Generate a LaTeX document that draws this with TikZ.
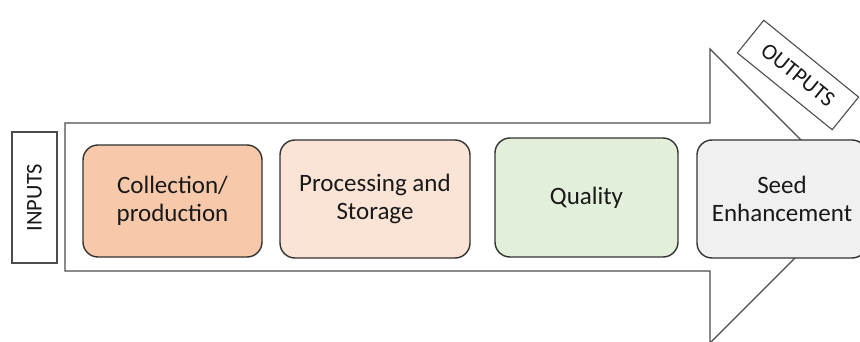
\documentclass[tikz,border=0pt]{standalone}
\usepackage{fontspec}
\setmainfont{Carlito}
\begin{document}
\begin{tikzpicture}[x=1pt,y=-1pt,
  stage/.style={draw=black!80, line width=1.4pt, rounded corners=15pt,
    align=center, text=black!90, font=\fontsize{25}{28.5}\selectfont,
    inner sep=0pt},
  tag/.style={draw=black!70, line width=1.1pt, fill=white, inner sep=0pt,
    text=black!90, font=\fontsize{22.5}{26}\selectfont}]
\useasboundingbox (0,0) rectangle (860,342);
\clip (0,0) rectangle (860,342);
\fill[white] (0,0) rectangle (860,342);
% big process arrow
\draw[black!70, line width=1.2pt, fill=white, line join=miter]
  (65,123) -- (710,123) -- (710,49) -- (857,196) -- (710,343)
  -- (710,271) -- (65,271) -- cycle;
% input and output tags
\node[tag, rotate=90, minimum width=131pt, minimum height=45pt] (in) at (34.5,197.5) {INPUTS};
\node[tag, rotate=-39, minimum width=122pt, minimum height=42pt] (out) at (798,75) {OUTPUTS};
% stages
\node[stage, fill={rgb,255:red,247;green,201;blue,170}, minimum width=179pt, minimum height=112pt] (col) at (172.5,201) {Collection/\\production};
\node[stage, fill={rgb,255:red,251;green,228;blue,214}, minimum width=190pt, minimum height=118pt] (proc) at (375,199) {Processing and\\Storage};
\node[stage, fill={rgb,255:red,226;green,239;blue,218}, minimum width=183pt, minimum height=119pt] (qual) at (586.5,197.5) {Quality};
\node[stage, fill={rgb,255:red,240;green,240;blue,240}, minimum width=170pt, minimum height=118pt] (seed) at (782,199) {Seed\\Enhancement};
\end{tikzpicture}
\end{document}
